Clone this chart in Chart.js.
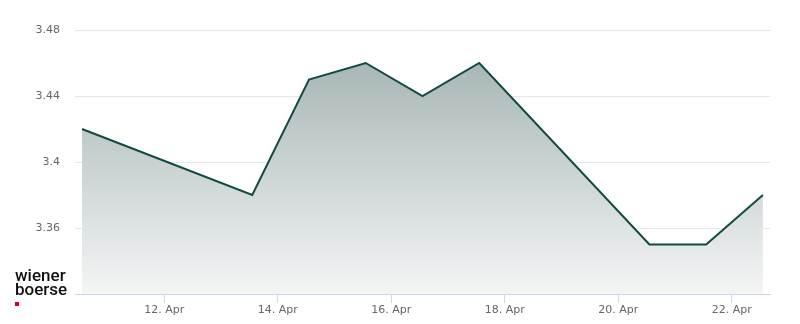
<!DOCTYPE html>
<html>
<head>
<meta charset="utf-8">
<script src="https://cdn.jsdelivr.net/npm/chart.js@4/dist/chart.umd.min.js"></script>
<style>
  html, body { margin: 0; padding: 0; background: #fff; }
  #wrap { position: relative; width: 800px; height: 324px; }
  #logo { position: absolute; left: 15px; top: 268px; font-family: Roboto, "Liberation Sans", sans-serif;
          font-weight: 500; font-size: 17px; line-height: 14px; color: #111; }
  #logo .dot { position: absolute; left: 0; top: 34px; width: 4px; height: 4px; background: #d0021b; }
</style>
</head>
<body>
<div id="wrap">
  <canvas id="chart" width="800" height="324"></canvas>
  <div id="logo">wiener<br>boerse<span class="dot"></span></div>
</div>
<script>
// trading days (April), price at ~13:00 each day
const days = [10, 13, 14, 15, 16, 17, 20, 21, 22];
const prices = [3.42, 3.38, 3.45, 3.46, 3.44, 3.46, 3.35, 3.35, 3.38];
const xTicks = [12, 14, 16, 18, 20, 22];
const yTicks = [3.36, 3.40, 3.44, 3.48];
const dayOffset = 0.55;

const points = days.map(function (d, i) {
    return { x: d + dayOffset, y: prices[i] };
});

function fillGradient(context) {
    const area = context.chart.chartArea;
    if (!area) return '#cfd7d6';
    const g = context.chart.ctx.createLinearGradient(0, 63, 0, area.bottom);
    g.addColorStop(0, '#a8b7b6');
    g.addColorStop(1, '#f4f5f5');
    return g;
}

new Chart(document.getElementById('chart').getContext('2d'), {
    type: 'line',
    data: {
        datasets: [{
            data: points,
            borderColor: '#0f4a45',
            borderWidth: 2,
            backgroundColor: fillGradient,
            fill: 'start',
            pointRadius: 0,
            tension: 0
        }]
    },
    options: {
        responsive: false,
        animation: false,
        layout: { padding: { left: 0, right: 30, top: 30, bottom: 0 } },
        plugins: { legend: { display: false }, tooltip: { enabled: false } },
        scales: {
            x: {
                type: 'linear',
                min: 10.426,
                max: 22.675,
                afterBuildTicks: function (scale) {
                    scale.ticks = xTicks.map(function (v) { return { value: v }; });
                },
                afterFit: function (scale) { scale.height = 30; },
                ticks: {
                    autoSkip: false,
                    maxRotation: 0,
                    padding: 1,
                    color: '#666666',
                    font: { family: 'DejaVu Sans', size: 11 },
                    callback: function (v) { return v + '. Apr'; }
                },
                grid: {
                    drawOnChartArea: false,
                    drawTicks: true,
                    tickLength: 9,
                    color: '#ccd6eb'
                },
                border: { color: '#ccd6eb', width: 1 }
            },
            y: {
                min: 3.32,
                max: 3.48,
                afterBuildTicks: function (scale) {
                    scale.ticks = yTicks.map(function (v) { return { value: v }; });
                },
                afterFit: function (scale) { scale.width = 75; },
                ticks: {
                    padding: 15,
                    color: '#666666',
                    font: { family: 'DejaVu Sans', size: 11 },
                    callback: function (v) { return String(+v.toFixed(2)); }
                },
                grid: { drawTicks: false, color: '#e6e6e6' },
                border: { display: false }
            }
        }
    }
});
</script>
</body>
</html>
